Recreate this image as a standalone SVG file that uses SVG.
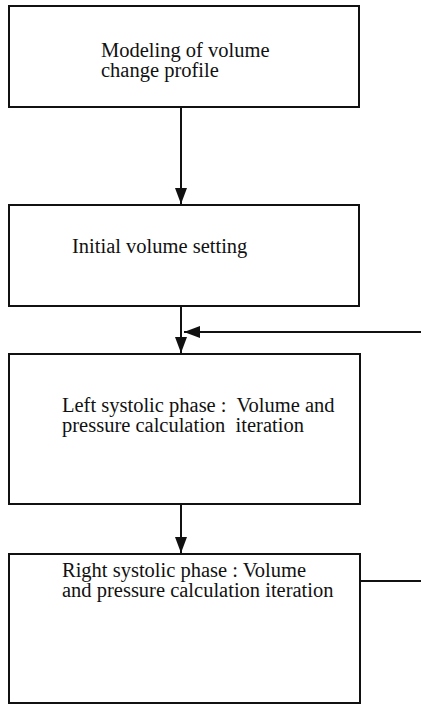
<svg xmlns="http://www.w3.org/2000/svg" width="421" height="705" viewBox="0 0 421 705">
<style>
.box{fill:#fff;stroke:#111;stroke-width:2}
.lbl{font-family:"Liberation Serif","Times New Roman",serif;font-size:20.5px;fill:#111;white-space:pre}
.con{fill:none;stroke:#111;stroke-width:2}
</style>
<defs>
<marker id="ah" viewBox="0 0 16 12" refX="16" refY="6" markerWidth="8" markerHeight="6" orient="auto" markerUnits="strokeWidth">
<path d="M0,0 L16,6 L0,12 z" fill="#111"/>
</marker>
</defs>
<rect width="421" height="705" fill="#fff"/>
<g id="node1">
<rect class="box" x="9" y="6" width="350" height="101"/>
<text class="lbl" x="101" y="57">Modeling of volume</text>
<text class="lbl" x="101" y="77">change profile</text>
</g>
<g id="node2">
<rect class="box" x="9" y="205" width="350" height="101"/>
<text class="lbl" x="72" y="253">Initial volume setting</text>
</g>
<g id="node3">
<rect class="box" x="9" y="354" width="351" height="150"/>
<text class="lbl" x="62" y="412" xml:space="preserve">Left systolic phase :  Volume and</text>
<text class="lbl" x="62" y="432" xml:space="preserve">pressure calculation  iteration</text>
</g>
<g id="node4">
<rect class="box" x="9" y="554" width="351" height="149"/>
<text class="lbl" x="62" y="577">Right systolic phase : Volume</text>
<text class="lbl" x="62" y="597">and pressure calculation iteration</text>
</g>
<g id="connectors">
<line class="con" x1="181" y1="107" x2="181" y2="204" marker-end="url(#ah)"/>
<line class="con" x1="181" y1="306" x2="181" y2="353" marker-end="url(#ah)"/>
<line class="con" x1="181" y1="504" x2="181" y2="553" marker-end="url(#ah)"/>
<line class="con" x1="421" y1="332" x2="184" y2="332" marker-end="url(#ah)"/>
<line class="con" x1="360" y1="581" x2="421" y2="581"/>
</g>
</svg>
